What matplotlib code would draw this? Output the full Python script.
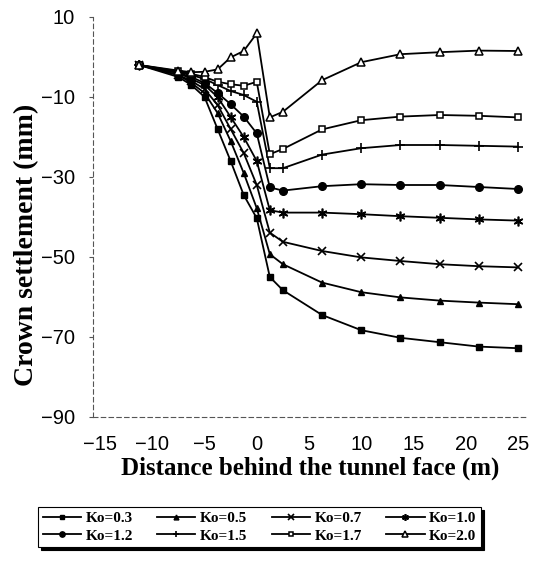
import numpy as np
import matplotlib
matplotlib.use('Agg')
import matplotlib.pyplot as plt

# distancia detras del frente (m)
x_dist = [-11.25, -7.5, -6.25, -5, -3.75, -2.5, -1.25, 0,
          1.25, 2.5, 6.25, 10, 13.75, 17.5, 21.25, 25]

# asentamiento de clave (mm) para cada Ko
ko_03 = [-2, -5, -7, -10, -18, -26, -34.5, -40.3,
         -55, -58.3, -64.5, -68.3, -70.2, -71.3, -72.4, -72.8]
ko_05 = [-2, -4.5, -6.5, -9, -14, -21, -29, -37.8,
         -49.3, -51.8, -56.4, -58.8, -60.1, -60.9, -61.4, -61.8]
ko_07 = [-2, -4.5, -6, -8, -12, -18, -24, -32,
         -43.9, -46.2, -48.5, -50.1, -51, -51.8, -52.3, -52.6]
ko_10 = [-2, -4, -5.5, -7, -10, -15, -20, -26,
         -38.3, -38.9, -38.9, -39.3, -39.8, -40.2, -40.6, -40.9]
ko_12 = [-2, -4, -5, -6.5, -9, -11.8, -14.9, -19.1,
         -32.6, -33.4, -32.3, -31.8, -32, -32, -32.5, -33]
ko_15 = [-2, -3.8, -4.5, -5.5, -7, -8.5, -9.5, -11.2,
         -27.8, -27.8, -24.4, -22.8, -22, -22, -22.2, -22.4]
ko_17 = [-2, -3.6, -4.2, -5, -6.2, -6.8, -7.2, -6.2,
         -24.3, -23, -18.1, -15.8, -14.9, -14.5, -14.7, -15.1]
ko_20 = [-2, -3.4, -3.8, -3.7, -3.1, -0.1, 1.5, 5.9,
         -15.1, -13.7, -5.8, -1.3, 0.7, 1.2, 1.6, 1.5]

etiquetas = ['Ko=0.3', 'Ko=0.5', 'Ko=0.7', 'Ko=1.0',
             'Ko=1.2', 'Ko=1.5', 'Ko=1.7', 'Ko=2.0']
series = [ko_03, ko_05, ko_07, ko_10, ko_12, ko_15, ko_17, ko_20]
y_ticks = [10, -10, -30, -50, -70, -90]
x_ticks = [-15, -10, -5, 0, 5, 10, 15, 20, 25]

# marcadores estilo Excel
marcadores = [
    dict(marker='s', mfc='k', ms=5),
    dict(marker='^', mfc='k', ms=5),
    dict(marker='x', mfc='k', ms=6, mew=1.2),
    dict(marker=(6, 2, 0), mfc='k', ms=7, mew=1.2),
    dict(marker='o', mfc='k', ms=5.5),
    dict(marker='+', mfc='k', ms=7, mew=1.2),
    dict(marker='s', mfc='white', ms=5, mew=1.1),
    dict(marker='^', mfc='white', ms=5.5, mew=1.1),
]

fig = plt.figure(figsize=(5.38, 5.75), dpi=100)
ax = fig.add_axes([93/538, 1 - 417/575, 434/538, 400/575])

lineas = []
for y, lab, m in zip(series, etiquetas, marcadores):
    l, = ax.plot(x_dist, y, color='k', lw=1.3, mec='k', label=lab, **m)
    lineas.append(l)

ax.set_xlim(-15.67, 25.86)
ax.set_ylim(-90, 10)
ax.set_xticks(x_ticks)
ax.set_yticks(y_ticks)

for s in ['top', 'right']:
    ax.spines[s].set_visible(False)
for s in ['left', 'bottom']:
    ax.spines[s].set_color('#555555')
    ax.spines[s].set_linewidth(0.8)
    ax.spines[s].set_linestyle((0, (4, 3)))

ax.tick_params(axis='y', length=3, width=0.8, color='#555555', pad=10,
               labelsize=14.5)
ax.tick_params(axis='x', length=0, pad=13, labelsize=14.5)
for t in ax.get_xticklabels() + ax.get_yticklabels():
    t.set_family('Liberation Sans')

ax.set_xlabel('Distance behind the tunnel face (m)', family='Liberation Serif',
              fontweight='bold', fontsize=18, labelpad=2)
ax.set_ylabel('Crown settlement (mm)', family='Liberation Serif',
              fontweight='bold', fontsize=20)
ax.yaxis.set_label_coords(-0.125, 0.43)

# orden por filas en la leyenda
orden = [0, 4, 1, 5, 2, 6, 3, 7]
leg = fig.legend([lineas[i] for i in orden], [etiquetas[i] for i in orden],
                 loc='upper left', bbox_to_anchor=(38/538, 1 - 507/575), ncol=4,
                 frameon=True, fancybox=False, edgecolor='k',
                 prop={'family': 'Liberation Serif', 'weight': 'bold', 'size': 11},
                 handlelength=2.5, handletextpad=0.3, columnspacing=1.6,
                 labelspacing=0.25, borderpad=0.3, markerscale=0.7,
                 borderaxespad=0,
                 shadow={'color': 'black', 'alpha': 1})
leg.get_frame().set_linewidth(0.8)

fig.savefig('out.png', dpi=100)
